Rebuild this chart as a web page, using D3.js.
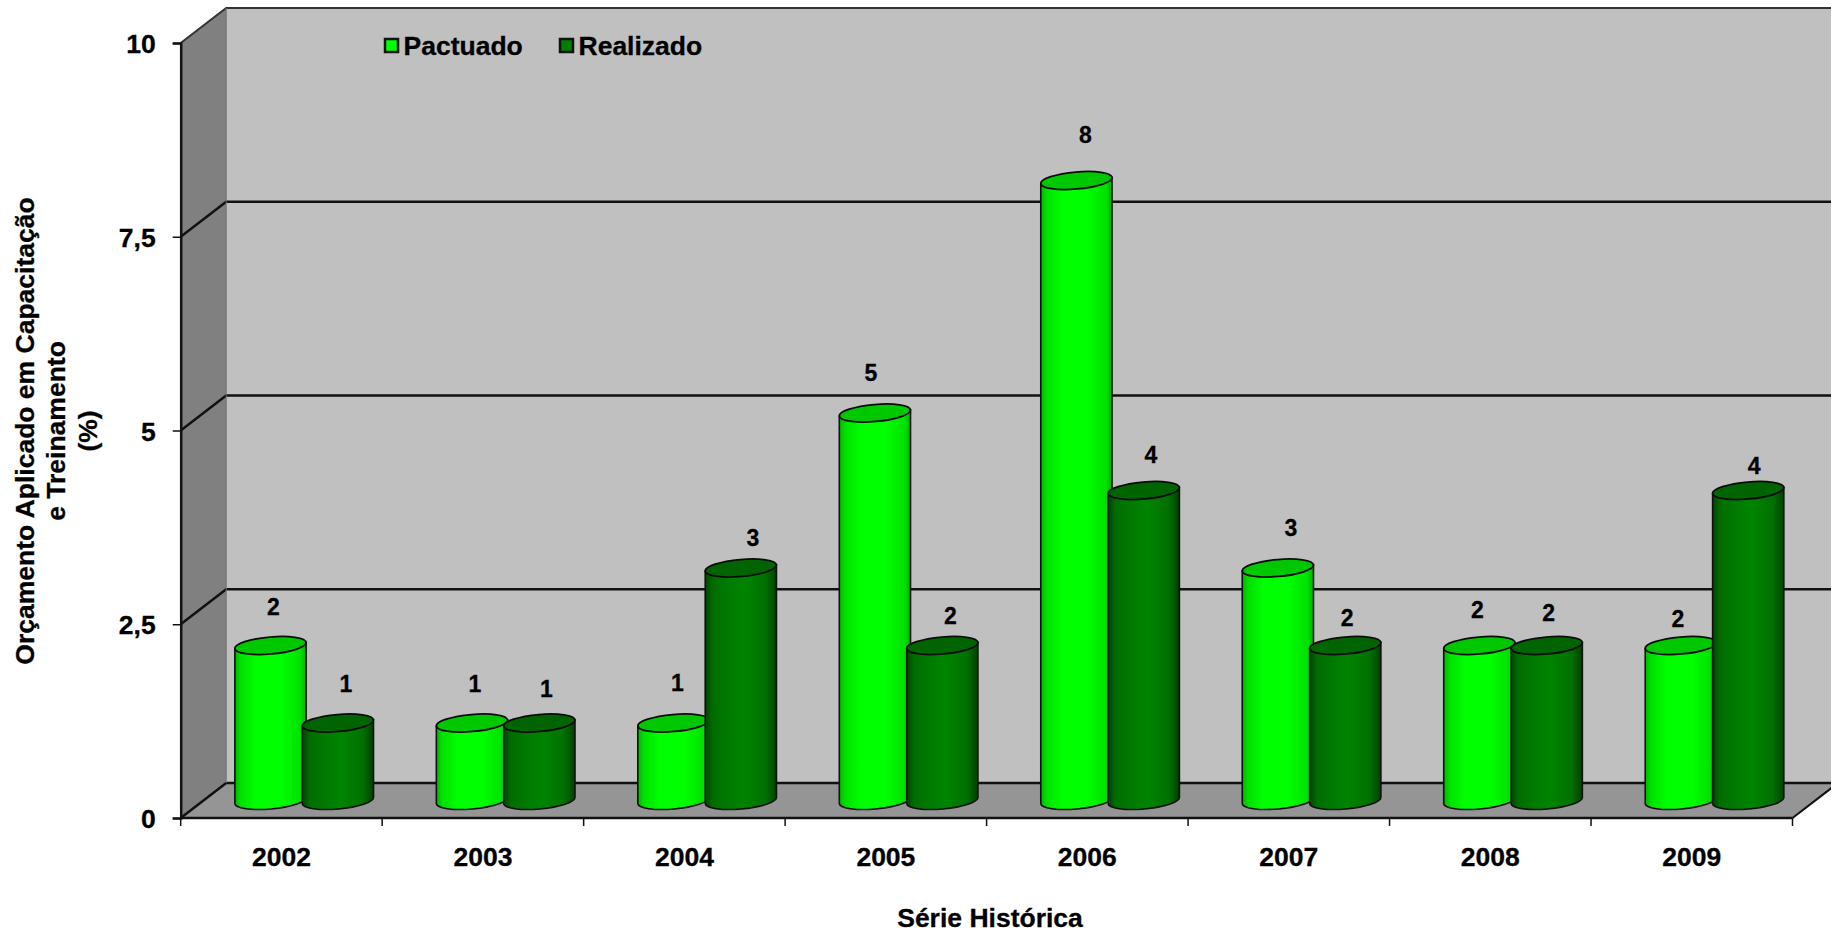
<!DOCTYPE html>
<html><head><meta charset="utf-8">
<script src="https://cdn.jsdelivr.net/npm/d3@7"></script>
<style>
html,body{margin:0;padding:0;background:#fff;overflow:hidden}
svg{display:block}
text{font-family:"Liberation Sans",Arial,sans-serif;font-weight:bold;fill:#000;stroke:#000;stroke-width:0.3px}
</style></head><body>
<svg id="c" width="1831" height="932"></svg>
<script>
const years = ["2002","2003","2004","2005","2006","2007","2008","2009"];
const pactuado = [2,1,1,5,8,3,2,2];
const realizado = [1,1,3,2,4,2,2,4];
const yTicks = [0,2.5,5,7.5,10];
const seriesNames = ["Pactuado","Realizado"];
const yTitleLines = ["Orçamento Aplicado em Capacitação","e Treinamento","(%)"];
const xTitle = "Série Histórica";
// hand-placed label nudges of the original, relative to the default label spot
const pactNudgeX = [3,3,4,-4,9,13,-2,-3];
const pactNudgeY = [1,0,-1,-1,-6,-1,4,13];
const realNudgeX = [8,7,12,8,7,2,2,6];
const realNudgeY = [0,5,9,10,4,12,7,15];

const W = 1831, H = 932;
const svg = d3.select("#c");
const x = d3.scaleBand().domain(years).range([180.7,1792.5]);
const y = d3.scaleLinear().domain([0,10]).range([818,43]);
const DX = 45.5, DY = -35;           // wall depth
const barW = 71.5, step = 67.4, ry = 8.5, tilt = -5;
const rad = tilt*Math.PI/180, ex = barW/2*Math.cos(rad), ey = barW/2*Math.sin(rad);
const midX = DX/2, midY = DY/2;

// gradients
const defs = svg.append("defs");
function grad(id, stops){
  const g = defs.append("linearGradient").attr("id",id).attr("x1","0").attr("x2","1").attr("y1","0").attr("y2","0");
  stops.forEach(s=>g.append("stop").attr("offset",s[0]).attr("stop-color",s[1]));
}
grad("gL",[[0,"#00b400"],[0.08,"#00e000"],[0.3,"#00ff00"],[0.65,"#00ff00"],[0.92,"#00e000"],[1,"#00b000"]]);
grad("gD",[[0,"#004400"],[0.1,"#006c00"],[0.35,"#007c00"],[0.55,"#008400"],[0.85,"#007000"],[1,"#004000"]]);

const x0 = x.range()[0], x1 = x.range()[1];
const line = d3.line();
// walls
svg.append("path").attr("fill","#c0c0c0")
  .attr("d",line([[x0+DX,y(10)+DY],[W+20,y(10)+DY],[W+20,y(0)+DY],[x0+DX,y(0)+DY]])+"Z");
svg.append("path").attr("fill","#808080")
  .attr("d",line([[x0,y(10)],[x0+DX,y(10)+DY],[x0+DX,y(0)+DY],[x0,y(0)]])+"Z");
svg.append("path").attr("fill","#959595")
  .attr("d",line([[x0,y(0)],[x0+DX,y(0)+DY],[W+20,y(0)+DY],[x1+DX,y(0)+DY],[x1,y(0)]])+"Z");

// gridlines
yTicks.forEach(t=>{
  svg.append("path").attr("fill","none").attr("stroke",t===10?"#333":"#111")
    .attr("stroke-width",t===10?2:2.5)
    .attr("d",line([[x0,y(t)],[x0+DX,y(t)+DY],[W+20,y(t)+DY]]));
});
svg.append("path").attr("fill","none").attr("stroke","#111").attr("stroke-width",2)
  .attr("d",line([[x1,y(0)],[x1+DX,y(0)+DY]]));
svg.append("line").attr("x1",x0+DX).attr("x2",x0+DX).attr("y1",y(10)+DY).attr("y2",y(0)+DY)
  .attr("stroke","#707070").attr("stroke-width",1);

// axes
const yAxis = d3.axisLeft(y).tickValues(yTicks).tickSize(8).tickPadding(17)
  .tickFormat(d=>String(d).replace(".",","));
const gy = svg.append("g").attr("transform",`translate(${x0},0)`).call(yAxis);
gy.selectAll("text").style("font-size","26.5px").attr("dy","0.36em");
gy.selectAll("path,line").attr("stroke","#111").attr("stroke-width",1.5);
gy.select("path").attr("stroke-width",2.5);

const xAxis = d3.axisBottom(x).tickSize(0).tickPadding(0);
const gx = svg.append("g").attr("transform",`translate(0,${y(0)})`).call(xAxis);
gx.select("path").attr("d",`M${x0},0H${x1}`).attr("stroke","#111").attr("stroke-width",2.5);
gx.selectAll(".tick line").remove();
gx.selectAll("text").attr("x",0).attr("y",39).attr("dy","0.35em").style("font-size","26.5px");
svg.append("g").selectAll("line").data(years.concat(["end"])).join("line")
  .attr("x1",(d,i)=>x0+i*x.step()).attr("x2",(d,i)=>x0+i*x.step())
  .attr("y1",y(0)).attr("y2",y(0)+8).attr("stroke","#111").attr("stroke-width",1.5);

// cylinders
function cyl(val, i, off, fillId, topCol){
  const cx = x(years[i]) + x.bandwidth()/2 + midX + off;
  const top = y(val) + midY, bot = y(0) + midY;
  const g = svg.append("g");
  g.append("path").attr("fill",`url(#${fillId})`).attr("stroke","#101010").attr("stroke-width",1.6)
    .attr("d",`M${cx-ex},${top-ey}L${cx+ex},${top+ey}L${cx+ex},${bot+ey}`+
      `A${barW/2},${ry} ${tilt} 0 1 ${cx-ex},${bot-ey}Z`);
  g.append("ellipse").attr("rx",barW/2).attr("ry",ry).attr("fill",topCol)
    .attr("stroke","#0c0c0c").attr("stroke-width",1.8)
    .attr("transform",`translate(${cx},${top}) rotate(${tilt})`);
}
years.forEach((yr,i)=>{
  cyl(pactuado[i],i,-step/2,"gL","#00c800");
  cyl(realizado[i],i, step/2,"gD","#006400");
});

// data labels
function labels(vals, off, nx, ny){
  svg.append("g").selectAll("text").data(vals).join("text")
    .attr("x",(d,i)=>x(years[i])+x.bandwidth()/2+midX+off+nx[i])
    .attr("y",(d,i)=>y(d)+midY-39.5+ny[i])
    .attr("text-anchor","middle").attr("dominant-baseline","central")
    .style("font-size","23px").text(d=>d);
}
labels(pactuado,-step/2,pactNudgeX,pactNudgeY);
labels(realizado,step/2,realNudgeX,realNudgeY);

// legend
const legX = [385,560];
const legCol = ["#00ff00","#008000"];
seriesNames.forEach((n,i)=>{
  svg.append("rect").attr("x",legX[i]).attr("y",39).attr("width",13).attr("height",13)
    .attr("fill",legCol[i]).attr("stroke","#111").attr("stroke-width",2.5);
  svg.append("text").attr("x",legX[i]+18.5).attr("y",46).attr("dominant-baseline","central")
    .style("font-size","26.5px").text(n);
});

// axis titles
svg.append("text").attr("x",990).attr("y",918).attr("text-anchor","middle")
  .attr("dominant-baseline","central").style("font-size","26.5px").text(xTitle);
const yt = svg.append("g").attr("transform","translate(24.5,431) rotate(-90)");
yTitleLines.forEach((s,i)=>{
  yt.append("text").attr("x",0).attr("y",i*31.5).attr("text-anchor","middle")
    .attr("dominant-baseline","central").style("font-size","26.5px").text(s);
});
</script>
</body></html>
